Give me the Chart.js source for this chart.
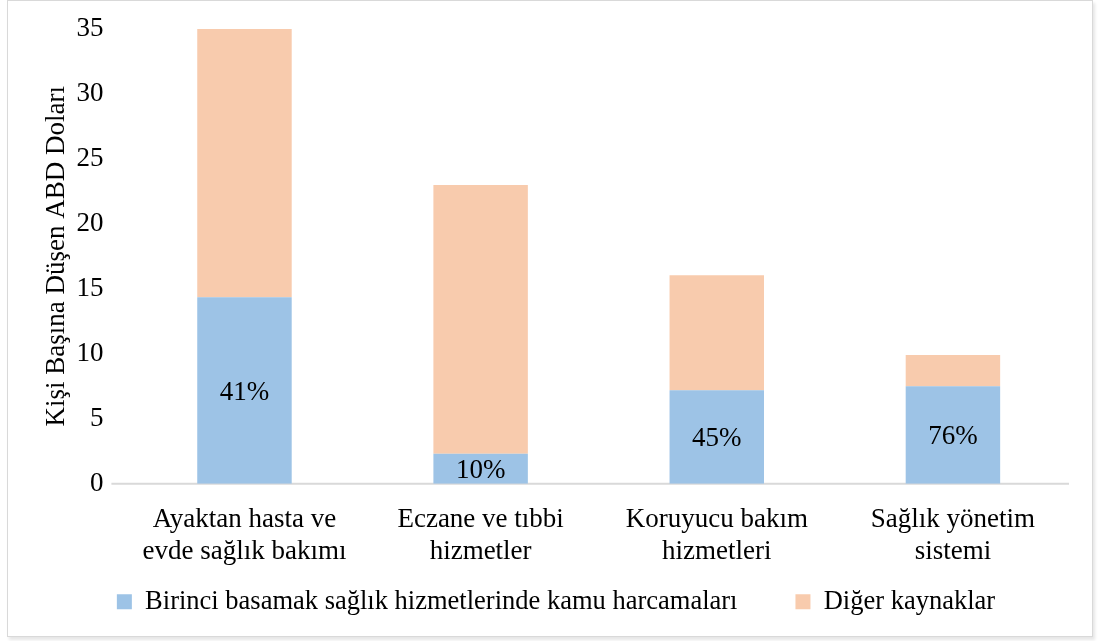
<!DOCTYPE html>
<html>
<head>
<meta charset="utf-8">
<script src="https://cdn.jsdelivr.net/npm/chart.js@4/dist/chart.umd.min.js"></script>
<style>
  body { margin: 0; background: #fff; }
  #frame { position: absolute; left: 7px; top: 0; width: 1084px; height: 635px; border: 1px solid #d9d9d9; box-shadow: 2px 3px 3px #e6e6e6; }
  #chart { display: block; }
</style>
</head>
<body>
<div id="frame"><canvas id="chart" width="1084" height="635"></canvas></div>
<script>
// Data
const categories = [
  ['Ayaktan hasta ve', 'evde sağlık bakımı'],
  ['Eczane ve tıbbi', 'hizmetler'],
  ['Koruyucu bakım', 'hizmetleri'],
  ['Sağlık yönetim', 'sistemi']
];
const publicSpend = [14.35, 2.3, 7.2, 7.5];
const otherSources = [20.65, 20.7, 8.85, 2.4];
const shareLabels = ['41%', '10%', '45%', '76%'];
const yTicks = [0, 5, 10, 15, 20, 25, 30, 35];

const serif = "'Liberation Serif', 'DejaVu Serif', serif";
const fontSize = 27;
const legendGap = 58;   // space between the two legend items
const legendTrim = 50;  // vertical space taken back from the legend padding

// write the share inside each blue bar
const shareLabelPlugin = {
  id: 'shareLabels',
  afterDatasetsDraw(chart) {
    const ctx = chart.ctx;
    const meta = chart.getDatasetMeta(0);
    ctx.save();
    ctx.font = fontSize + 'px ' + serif;
    ctx.fillStyle = '#000';
    ctx.textAlign = 'center';
    ctx.textBaseline = 'middle';
    meta.data.forEach(function(bar, i) {
      const mid = (bar.y + bar.base) / 2;
      ctx.fillText(shareLabels[i], bar.x, mid + 2);
    });
    ctx.restore();
  }
};

// category axis line, running a little left of the plot like the original
const baseLinePlugin = {
  id: 'baseLine',
  beforeDatasetsDraw(chart) {
    const ctx = chart.ctx;
    const area = chart.chartArea;
    const y = chart.scales.y.getPixelForValue(0);
    ctx.save();
    ctx.strokeStyle = '#d9d9d9';
    ctx.lineWidth = 2;
    ctx.beginPath();
    ctx.moveTo(area.left - 15, y);
    ctx.lineTo(area.right - 2, y);
    ctx.stroke();
    ctx.restore();
  }
};

// wide gap between legend items without the tall box it would give
const legendSpacing = {
  id: 'legendSpacing',
  beforeLayout(chart) {
    const legend = chart.legend;
    if (!legend || legend._trimmed) return;
    legend._trimmed = true;
    const fit = legend.fit;
    const draw = legend.draw;
    legend.fit = function() {
      fit.call(this);
      this.height -= legendTrim;
    };
    legend.draw = function() {
      this.top -= legendTrim;
      draw.apply(this, arguments);
      this.top += legendTrim;
    };
  }
};

function noEdgePadding(scale) {
  scale.paddingLeft = 0;
  scale.paddingRight = 0;
  scale.paddingTop = 0;
  scale.paddingBottom = 0;
}

new Chart(document.getElementById('chart').getContext('2d'), {
  type: 'bar',
  data: {
    labels: categories,
    datasets: [{
      label: 'Birinci basamak sağlık hizmetlerinde kamu harcamaları',
      data: publicSpend,
      backgroundColor: '#9dc3e6'
    }, {
      label: 'Diğer kaynaklar',
      data: otherSources,
      backgroundColor: '#f8cbad'
    }]
  },
  options: {
    responsive: false,
    animation: false,
    barPercentage: 0.8,
    categoryPercentage: 0.5,
    layout: { padding: { left: 33, right: 21, top: 28, bottom: 11 } },
    plugins: {
      legend: {
        position: 'bottom',
        labels: {
          color: '#000',
          font: { size: 26.5, family: serif },
          boxWidth: 15,
          boxHeight: 15,
          padding: legendGap
        }
      },
      tooltip: { enabled: false }
    },
    scales: {
      x: {
        stacked: true,
        afterFit: noEdgePadding,
        grid: { display: false },
        border: { display: false },
        ticks: { color: '#000', font: { size: fontSize, family: serif }, padding: 12 }
      },
      y: {
        stacked: true,
        min: 0,
        max: 35,
        afterFit: noEdgePadding,
        afterBuildTicks: function(axis) {
          axis.ticks = yTicks.map(function(v) { return { value: v }; });
        },
        grid: { display: false },
        border: { display: false },
        ticks: { color: '#000', font: { size: fontSize, family: serif }, padding: 15 },
        title: {
          display: true,
          text: 'Kişi Başına Düşen ABD Doları',
          color: '#000',
          font: { size: fontSize, family: serif },
          padding: { top: 0, bottom: -12 }
        }
      }
    }
  },
  plugins: [shareLabelPlugin, baseLinePlugin, legendSpacing]
});
</script>
</body>
</html>
